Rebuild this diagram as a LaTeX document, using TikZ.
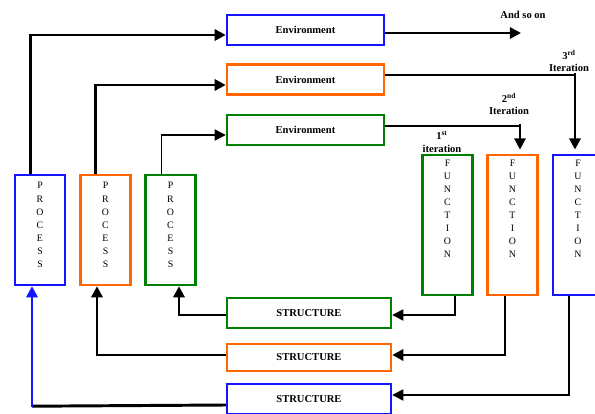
\documentclass[tikz,border=0pt]{standalone}
\usepackage{fontspec}
\setmainfont{Liberation Serif}
\usetikzlibrary{arrows.meta, calc}
\definecolor{envblue}{RGB}{20,20,255}
\definecolor{envorange}{RGB}{255,102,0}
\definecolor{envgreen}{RGB}{0,128,0}

\begin{document}
\begin{tikzpicture}[x=0.025cm, y=-0.025cm,
        wide/.style={draw, line width=1.7pt, minimum width=3.925cm, minimum height=0.75cm, inner sep=0pt,
            font=\fontsize{7.5}{9}\selectfont\bfseries},
        tall/.style={draw, line width=1.7pt, minimum width=1.25cm, align=center, inner sep=0pt,
            font=\fontsize{7}{9.3}\selectfont},
        lbl/.style={align=center, inner sep=0pt, font=\fontsize{7.5}{9}\selectfont\bfseries},
        link/.style={line width=2.1pt, -{Triangle[length=8pt, width=8pt]}},
        thin/.style={line width=1.1pt}
    ]
        \useasboundingbox (0,0) rectangle (595,414);
        \clip (0,0) rectangle (595,414);

        % Environment boxes
        \node[wide, envblue, text=black] (env1) at (305.5,30) {Environment};
        \node[wide, envorange, text=black] (env2) at (305.5,79.5) {Environment};
        \node[wide, envgreen, text=black] (env3) at (305.5,130) {Environment};

        % Process boxes
        \node[tall, envblue, text=black, minimum height=2.75cm, text depth=0.25cm] (p1) at (40,230) {P\\R\\O\\C\\E\\S\\S};
        \node[tall, envorange, text=black, minimum height=2.75cm, text depth=0.25cm] (p2) at (105.5,230) {P\\R\\O\\C\\E\\S\\S};
        \node[tall, envgreen, text=black, minimum height=2.75cm, text depth=0.25cm] (p3) at (170.5,230) {P\\R\\O\\C\\E\\S\\S};

        % Function boxes
        \node[tall, envgreen, text=black, minimum height=3.5cm, text depth=0.8cm] (f1) at (447.5,225) {F\\U\\N\\C\\T\\I\\O\\N};
        \node[tall, envorange, text=black, minimum height=3.5cm, text depth=0.8cm] (f2) at (512.5,225) {F\\U\\N\\C\\T\\I\\O\\N};
        \node[tall, envblue, text=black, minimum height=3.5cm, text depth=0.8cm] (f3) at (578,225) {F\\U\\N\\C\\T\\I\\O\\N};

        % Structure boxes
        \node[wide, envgreen, text=black, minimum width=4.1cm] (s1) at (309,313) {STRUCTURE};
        \node[wide, envorange, text=black, minimum width=4.1cm, minimum height=0.675cm] (s2) at (309,357.5) {STRUCTURE};
        \node[wide, envblue, text=black, minimum width=4.1cm] (s3) at (309,399) {STRUCTURE};

        % Labels
        \node[lbl] (soon) at (523,15) {And so on};
        \node[lbl] (it3) at (569,61) {3\textsuperscript{rd}\\Iteration};
        \node[lbl] (it2) at (509,104) {2\textsuperscript{nd}\\Iteration};
        \node[lbl] (it1) at (442,142) {1\textsuperscript{st}\\iteration};
        \coordinate (next) at (521,33);

        % Process to environment
        \draw[link] ($(p1.north west)+(17,0)$) |- ($(env1.west)+(0,5)$);
        \draw[link] ($(p2.north west)+(16,0)$) |- ($(env2.west)+(0,5.5)$);
        \draw[link, thin] ($(p3.north west)+(17,0)$) |- ($(env3.west)+(0,5)$);

        % Environment to function
        \draw[link] ($(env1.east)+(0,3)$) -- (next);
        \draw[thin] ($(env2.east)+(0,-4.5)$) -| ($(f3.north)+(-3,-60)$);
        \draw[link, shorten >=3pt] ($(f3.north)+(-3,-81)$) -- ($(f3.north)+(-3,0)$);
        \draw[thin] ($(env3.east)+(0,-4)$) -| ($(f2.north)+(7.5,-20)$);
        \draw[link, line width=1.6pt, shorten >=3pt] ($(f2.north)+(7.5,-30)$) -- ($(f2.north)+(7.5,0)$);

        % Function to structure
        \draw[link, thin] ($(f1.south)+(7.5,0)$) |- ($(s1.east)+(0,2)$);
        \draw[link] ($(f2.south)+(-7.5,0)$) |- ($(s2.east)+(0,-2.5)$);
        \draw[link, thin] ($(f3.south)+(-9,0)$) |- ($(s3.east)+(0,-4)$);

        % Structure to process
        \draw[link] ($(s1.west)+(0,2)$) -| ($(p3.south)+(8.5,0)$);
        \draw[link] ($(s2.west)+(0,-2.5)$) -| ($(p2.south)+(-8.5,0)$);
        \draw[line width=2.1pt] ($(s3.west)+(0,6)$) -- ($(p1.south)+(-8,120)$);
        \draw[link, envblue] ($(p1.south)+(-8,121)$) -- ($(p1.south)+(-8,0)$);
    \end{tikzpicture}
\end{document}
